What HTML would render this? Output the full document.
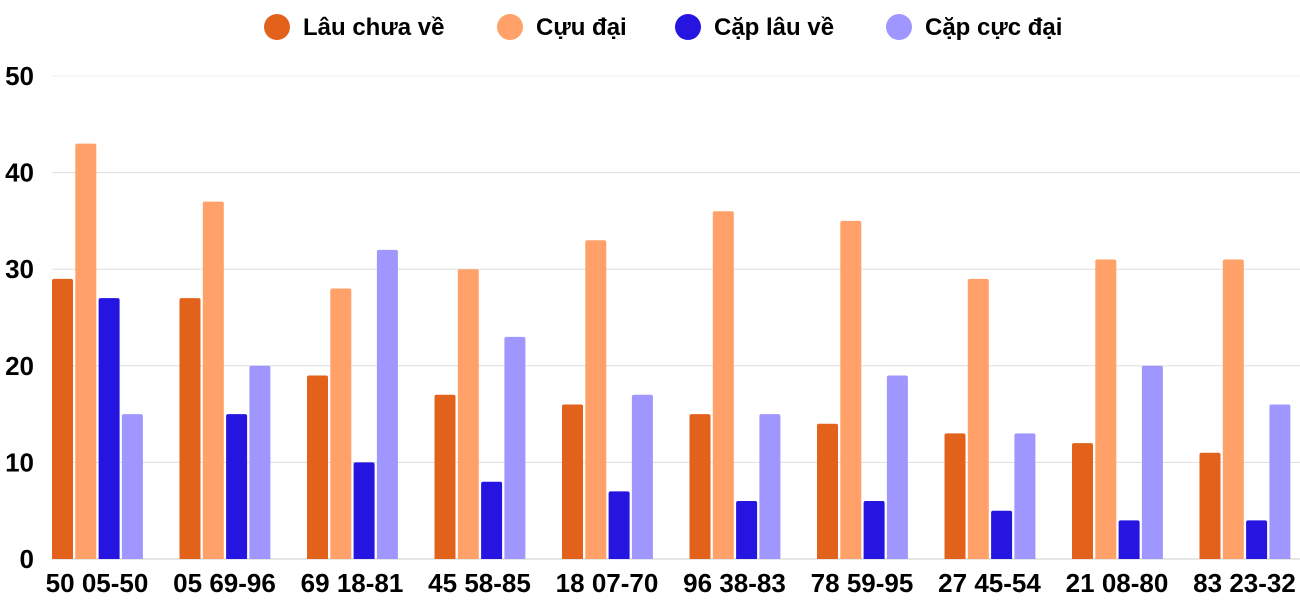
<!DOCTYPE html>
<html><head><meta charset="utf-8"><style>
body{margin:0;background:#fff;}
svg{display:block;font-family:"Liberation Sans",sans-serif;font-weight:bold;}
</style></head><body>
<svg id="chart" width="1300" height="600" viewBox="0 0 1300 600"></svg>
<script>
const categories=["50 05-50","05 69-96","69 18-81","45 58-85","18 07-70","96 38-83","78 59-95","27 45-54","21 08-80","83 23-32"];
const lauChuaVe=[29,27,19,17,16,15,14,13,12,11];
const cucDai=[43,37,28,30,33,36,35,29,31,31];
const capLauVe=[27,15,10,8,7,6,6,5,4,4];
const capCucDai=[15,20,32,23,17,15,19,13,20,16];
const seriesNames=["Lâu chưa về","Cựu đại","Cặp lâu về","Cặp cực đại"];
const yTicks=[0,10,20,30,40,50];
const colors=["#E2621B","#FFA168","#2614E0","#A096FF"];
const series=[lauChuaVe,cucDai,capLauVe,capCucDai];
const svg=document.getElementById('chart');
const NS="http://www.w3.org/2000/svg";
const y0=559,y50=76,x0=52,groupW=127.5,barW=21,barGap=2.3;
const yScale=v=>y0-(v/50)*(y0-y50);
const xScale=(i,s)=>x0+i*groupW+s*(barW+barGap);
function mk(t,a){const e=document.createElementNS(NS,t);for(const k in a)e.setAttribute(k,a[k]);svg.appendChild(e);return e;}
yTicks.forEach(t=>{
  const l=mk('line',{x1:x0,x2:1300,y1:yScale(t),y2:yScale(t),stroke:t===0?'#ccc':(t===50?'#eee':'#ddd'),'stroke-width':1});
  
  
  const tx=mk('text',{x:34,y:yScale(t)+9,'text-anchor':'end','font-size':26,fill:'#000'});
  tx.textContent=t;
  
  
});
categories.forEach((c,i)=>{
  series.forEach((s,j)=>{
    const y=yScale(s[i]);
    const r=mk('path',{d:`M${xScale(i,j)},${y0} V${y+2} q0,-2 2,-2 h${barW-4} q2,0 2,2 V${y0} Z`,fill:colors[j]});
    
    
  });
  const tx=mk('text',{x:xScale(i,0)+45,y:592,'text-anchor':'middle','font-size':26,fill:'#000'});
  tx.textContent=c;
  
  
});
const legX=[277,510,688,899];
seriesNames.forEach((n,j)=>{
  const c=mk('circle',{cx:legX[j],cy:27,r:13,fill:colors[j]});
  
  
  const t=mk('text',{x:legX[j]+26,y:35,'font-size':24,fill:'#000'});
  t.textContent=n;
  
  
});
</script>
</body></html>
